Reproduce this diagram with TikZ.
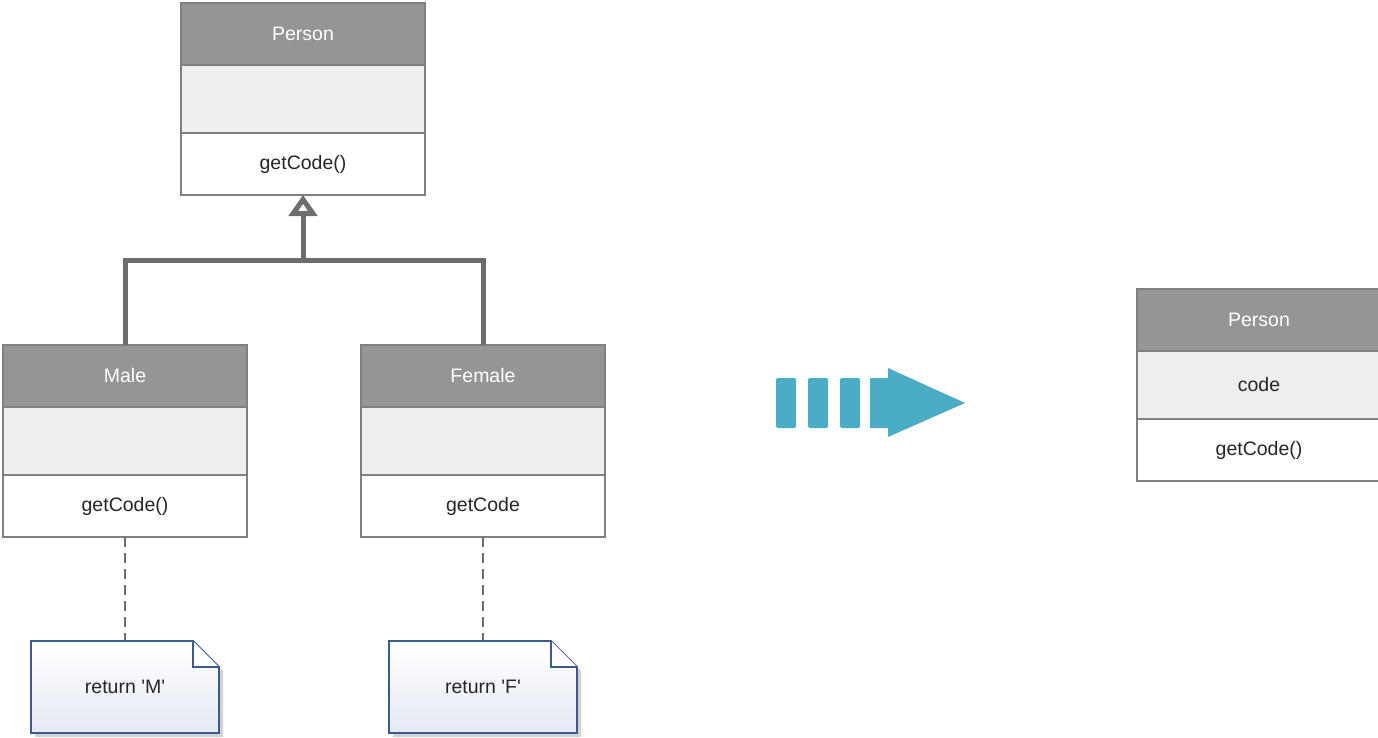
\documentclass[tikz,border=0pt]{standalone}
\usepackage{fontspec}
\setmainfont{Liberation Sans}[Ligatures=TeXOff]
\usetikzlibrary{arrows.meta,calc}

\definecolor{boxline}{HTML}{808080}
\definecolor{hdrfill}{HTML}{959595}
\definecolor{attrfill}{HTML}{EFEFEF}
\definecolor{txt}{HTML}{262626}
\definecolor{link}{HTML}{6D6D6D}
\definecolor{noteline}{HTML}{3B5B8E}
\definecolor{notebot}{HTML}{E4EAF4}
\definecolor{flow}{HTML}{4BACC6}

\tikzset{
  umlfont/.style={font=\fontsize{19.5}{23}\selectfont},
  part/.style={draw=boxline, line width=1.5pt, minimum width=244pt, anchor=north west,
               inner sep=0pt, outer sep=0pt, umlfont, text=txt},
  hdr/.style={part, fill=hdrfill, minimum height=62pt, text=white},
  attr/.style={part, fill=attrfill, minimum height=68pt},
  meth/.style={part, fill=white, minimum height=62pt},
  gen/.style={draw=link, line width=5pt},
  gentip/.style={-{Triangle[open, length=21pt, width=28pt, line width=5pt]}},
  trace/.style={draw=link, line width=1.8pt, dash pattern=on 10pt off 6pt},
  notebox/.style={minimum width=188pt, minimum height=92pt, inner sep=0pt, outer sep=0pt,
                  umlfont, text=txt},
}

% class box: name, x, y, title, attribute, method
\newcommand{\umlclass}[6]{%
  \node[hdr]  (#1-h) at (#2,#3) {#4};
  \node[attr] (#1-a) at (#1-h.south west) {#5};
  \node[meth] (#1-m) at (#1-a.south west) {#6};
}

% note with folded corner, outline drawn around a named node
\newcommand{\umlnote}[2]{%
  \fill[black!18] ($(#1.north west)+(4,4)$) -- ($(#1.north east)+(-26+4,4)$)
     -- ($(#1.north east)+(4,26+4)$) -- ($(#1.south east)+(4,4)$)
     -- ($(#1.south west)+(4,4)$) -- cycle;
  \path[draw=noteline, line width=1.8pt, top color=white, bottom color=notebot, line join=miter]
     (#1.north west) -- ($(#1.north east)+(-26,0)$) -- ($(#1.north east)+(0,26)$)
     -- (#1.south east) -- (#1.south west) -- cycle;
  \draw[noteline, line width=1.8pt, fill=white, line join=miter]
     ($(#1.north east)+(-26,0)$) -- ($(#1.north east)+(-26,26)$) -- ($(#1.north east)+(0,26)$);
  \node[notebox] at (#1) {#2};
}

\begin{document}
\begin{tikzpicture}[x=1pt, y=-1pt]
  \useasboundingbox (0,0) rectangle (1378,738);
  \clip (0,0) rectangle (1378,738);

  % class hierarchy before the refactoring
  \umlclass{person}{181}{3}{Person}{}{getCode()}
  \umlclass{male}{3}{345}{Male}{}{getCode()}
  \umlclass{female}{361}{345}{Female}{}{getCode}

  % generalisation
  \coordinate (bar) at (303,260);
  \draw[gen, line join=miter] (male-h.north) |- (bar) -| (female-h.north);
  \draw[gen, gentip] (bar) -- (person-m.south);

  % notes
  \node[notebox] (note-m) at (125,687) {};
  \node[notebox] (note-f) at (483,687) {};
  \draw[trace] (male-m.south) -- (note-m.north -| male-m.south);
  \draw[trace] (female-m.south) -- (note-f.north -| female-m.south);
  \umlnote{note-m}{return 'M'}
  \umlnote{note-f}{return 'F'}

  % transformation arrow
  \foreach \bx in {776,808,840}
    \fill[flow, rounded corners=2pt] (\bx,378) rectangle ++(20,50);
  \fill[flow] (870,378) -- (888,378) -- (888,368) -- (965,403) -- (888,437)
     -- (888,428) -- (870,428) -- cycle;

  % class after the refactoring
  \umlclass{merged}{1137}{289}{Person}{code}{getCode()}
\end{tikzpicture}
\end{document}
